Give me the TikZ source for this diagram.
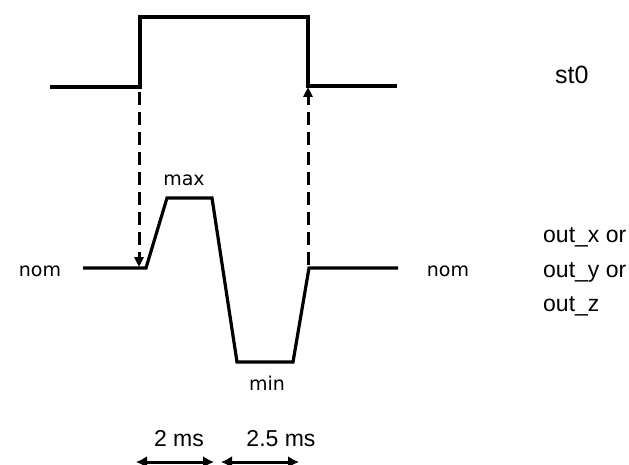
\documentclass[tikz,border=0pt]{standalone}
\usepackage{fontspec}
\setmainfont{Liberation Sans}
\newfontfamily\dvs{DejaVu Sans}
\usetikzlibrary{arrows.meta}
\begin{document}
\begin{tikzpicture}[x=1pt,y=-1pt,
  sig/.style={line width=3.2pt,line join=miter},
  dsh/.style={line width=3pt,dash pattern=on 13pt off 7pt,-{Triangle[width=9pt,length=10pt]}},
  dim/.style={line width=3pt,{Latex[width=12pt,length=11pt]}-{Latex[width=12pt,length=11pt]}},
  lbl/.style={inner sep=0pt,font=\fontsize{23}{26}\selectfont},
  vlbl/.style={inner sep=0pt,font=\dvs\fontsize{19}{22}\selectfont}]
\useasboundingbox (0,0) rectangle (629,465);
% top signal st0
\coordinate (a0) at (50,87);
\coordinate (a1) at (140,87);
\coordinate (a2) at (140,17);
\coordinate (a3) at (308,17);
\coordinate (a4) at (308,86);
\coordinate (a5) at (397,86);
\draw[sig] (a0) -- (a1) -- (a2) -- (a3) -- (a4) -- (a5);
% lower signal
\coordinate (b0) at (83,268);
\coordinate (b1) at (146,268);
\coordinate (b2) at (167,198);
\coordinate (b3) at (212,198);
\coordinate (b4) at (237,362);
\coordinate (b5) at (293,362);
\coordinate (b6) at (309,268);
\coordinate (b7) at (398,268);
\draw[sig] (b0) -- (b1) -- (b2) -- (b3) -- (b4) -- (b5) -- (b6) -- (b7);
% dashed arrows
\coordinate (d1) at (139,92);
\coordinate (d2) at (139,267);
\coordinate (d3) at (308,265);
\coordinate (d4) at (308,87);
\draw[dsh] (d1) -- (d2);
\draw[dsh] (d3) -- (d4);
% labels
\node[vlbl,anchor=base] (nomL) at (40,276) {nom};
\node[vlbl,anchor=base] (nomR) at (448,276) {nom};
\node[vlbl,anchor=base] (max) at (184,186) {max};
\node[vlbl,anchor=base] (min) at (267,390) {min};
\node[lbl,anchor=base west,font=\fontsize{25}{28}\selectfont] (st0) at (555,84) {st0};
\node[lbl,anchor=base west] (ox) at (543,242) {out\_x or};
\node[lbl,anchor=base west] (oy) at (543,277) {out\_y or};
\node[lbl,anchor=base west] (oz) at (543,311) {out\_z};
\node[lbl,anchor=base] (t1) at (179,446) {2 ms};
\node[lbl,anchor=base] (t2) at (281,446) {2.5 ms};
% dimension arrows
\coordinate (e0) at (136,462);
\coordinate (e1) at (214,462);
\coordinate (e2) at (221,462);
\coordinate (e3) at (299,462);
\draw[dim] (e0) -- (e1);
\draw[dim] (e2) -- (e3);
\end{tikzpicture}
\end{document}
